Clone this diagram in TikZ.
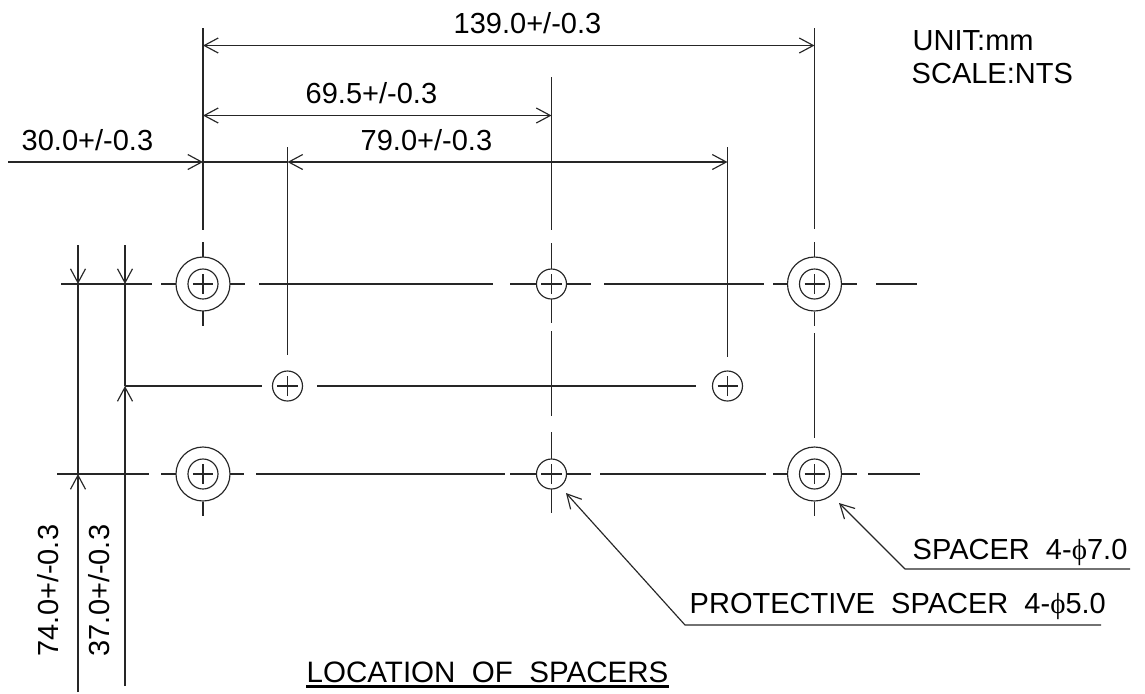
\documentclass[tikz,border=0pt]{standalone}
\usepackage{fontspec}
\setmainfont{Liberation Sans}
\newfontfamily\phifont{Liberation Serif}
\usetikzlibrary{arrows.meta}
\tikzset{
	thinline/.style={line width=0.33pt, black!85},
	dimline/.style={thinline, >={Straight Barb[length=1.4mm, width=1.5mm]}},
	dimtext/.style={font=\fontsize{8.25}{10}\selectfont, inner sep=0pt, anchor=base west}
}
\newcommand{\phisign}{{\phifont\char"03D5}}
\begin{document}
\begin{tikzpicture}[x=0.01cm, y=-0.01cm, line join=round]
	\useasboundingbox (0,0) rectangle (1145,693);
	\path (203,284) coordinate (TL)
	(814.5,284) coordinate (TR)
	(203,474) coordinate (BL)
	(814.5,474) coordinate (BR)
	(551.5,284) coordinate (TM)
	(551.5,474) coordinate (BM)
	(287.5,386) coordinate (ML)
	(727.5,386) coordinate (MR);
	% spacers and holes
	\foreach \diem in {TL,TR,BL,BR} \draw[thinline] (\diem) circle(27);
	\foreach \diem in {TL,TR,BL,BR,TM,BM,ML,MR} {
		\draw[thinline] (\diem) circle(15);
		\draw[thinline] ([xshift=-0.1cm]\diem)--([xshift=0.1cm]\diem) ([yshift=-0.1cm]\diem)--([yshift=0.1cm]\diem);
	}
	% center lines
	\foreach \ya/\xa/\xb in {284/61/152, 284/161/176, 284/230/245, 284/259/493, 284/510/536, 284/566/591, 284/604/764, 284/773/788, 284/842/857, 284/876/917,
		386/125/262, 386/317/696,
		474/57/149, 474/161/176, 474/230/244, 474/256/505, 474/510/536, 474/566/591, 474/600/766, 474/773/788, 474/842/857, 474/868/920}
		\draw[thinline] (\xa,\ya)--(\xb,\ya);
	\foreach \xa/\ya/\yb in {203/28/230, 203/242/257, 203/311/326, 203/502/516,
		287.5/147/355,
		551.5/77/230, 551.5/243/269, 551.5/299/323, 551.5/331/416, 551.5/432/459, 551.5/489/513,
		727.5/147/357,
		814.5/28/229, 814.5/242/257, 814.5/312/326, 814.5/333/438, 814.5/502/516,
		78/284/474, 125/284/386}
		\draw[thinline] (\xa,\ya)--(\xa,\yb);
	% dimensions
	\draw[dimline,<->] (203,45.5)--(814.5,45.5);
	\draw[dimline,<->] (203,115.5)--(551.5,115.5);
	\draw[dimline,->] (8,162)--(203,162);
	\draw[dimline,<->] (287.5,162)--(727.5,162);
	\draw[thinline] (203,162)--(287.5,162);
	\draw[dimline,->] (78,245)--(78,284);
	\draw[dimline,->] (125,245)--(125,284);
	\draw[dimline,->] (78,692)--(78,474);
	\draw[dimline,->] (125,686)--(125,386);
	\draw[dimline,<-] (839,503)--(905,569)--(1130,569);
	\draw[dimline,<-] (566,493)--(685,625)--(1101,625);
	% labels
	\foreach \nut/\xa/\ya/\nhan in {
		a/453/33/{139.0+/-0.3}, b/305/103/{69.5+/-0.3}, c/360/150/{79.0+/-0.3}, d/21/150/{30.0+/-0.3},
		u/912/50/{UNIT:mm}, s/911/83/{SCALE:NTS}}
		\node[dimtext] (\nut) at (\xa,\ya) {\nhan};
	\node[dimtext,rotate=90] (e) at (58,657) {74.0+/-0.3};
	\node[dimtext,rotate=90] (f) at (109,657) {37.0+/-0.3};
	\node[dimtext,font=\fontsize{8.4}{10}\selectfont] (loc) at (306,682) {LOCATION\ \ OF\ \ SPACERS};
	\draw[line width=0.85pt] ([yshift=-0.045cm]loc.base west)--([yshift=-0.045cm]loc.base east);
	\node[dimtext] (sp) at (912,559) {SPACER\ \ 4-\phisign 7.0};
	\node[dimtext] (pr) at (689,613) {PROTECTIVE\ \ SPACER\ \ 4-\phisign 5.0};
\end{tikzpicture}
\end{document}
